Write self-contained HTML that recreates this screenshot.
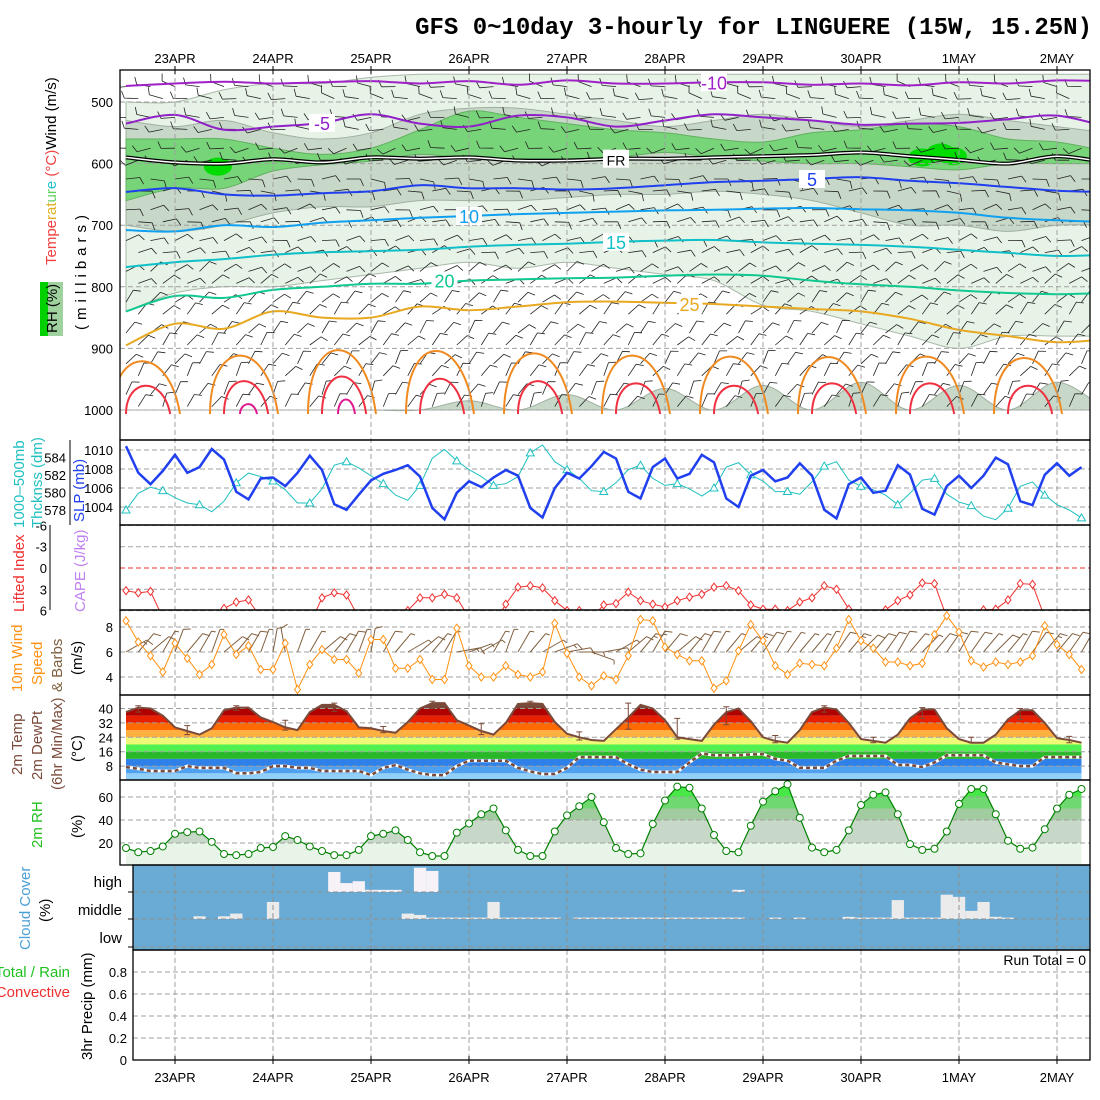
<!DOCTYPE html>
<html><head><meta charset="utf-8"><title>GFS meteogram LINGUERE</title>
<style>
html,body{margin:0;padding:0;background:#fff;}
svg{display:block;font-family:"Liberation Sans",sans-serif;}
.t{font-size:13px;fill:#000;}
</style></head>
<body>
<svg id="chart" xmlns="http://www.w3.org/2000/svg" width="1100" height="1100" viewBox="0 0 1100 1100">
<rect x="0" y="0" width="1100" height="1100" fill="#fff"/>
<text x="1092" y="34" text-anchor="end" font-family="Liberation Mono, monospace" font-weight="bold" font-size="24">GFS 0~10day 3-hourly for LINGUERE (15W, 15.25N)</text>
<g id="layers"></g>
<g font-size="15">
<text transform="translate(56,265) rotate(-90)"><tspan fill="#f04040">Tempe</tspan><tspan fill="#e0b020">rat</tspan><tspan fill="#60d060">ur</tspan><tspan fill="#20c0d0">e</tspan> <tspan fill="#f04040">(°C)</tspan><tspan fill="#000">Wind (m/s)</tspan></text>
<rect x="40" y="282" width="23" height="54" fill="#9fd29f"/>
<rect x="40" y="282" width="8" height="54" fill="#00d000"/>
<text transform="translate(57,333) rotate(-90)" fill="#000">RH (%)</text>
<text transform="translate(86,330) rotate(-90)" letter-spacing="5">(millibars)</text>
</g>
<g font-size="15">
<text transform="translate(24,528) rotate(-90)" fill="#20c0c0">1000–500mb</text>
<text transform="translate(42,528) rotate(-90)" fill="#20c0c0">Thcknss (dm)</text>
<text transform="translate(84,522) rotate(-90)" fill="#2040f0">SLP (mb)</text>
<line x1="70" y1="440" x2="70" y2="525" stroke="#000"/>
</g>
<g font-size="15">
<text transform="translate(24,612) rotate(-90)" fill="#f03030">Lifted Index</text>
<text transform="translate(85,612) rotate(-90)" fill="#c080f0">CAPE (J/kg)</text>
<line x1="50" y1="525" x2="50" y2="610" stroke="#000"/>
</g>
<g font-size="15">
<text transform="translate(22,692) rotate(-90)" fill="#ff9010">10m Wind</text>
<text transform="translate(42,685) rotate(-90)" fill="#ff9010">Speed</text>
<text transform="translate(62,692) rotate(-90)" fill="#806040">&amp; Barbs</text>
<text transform="translate(82,675) rotate(-90)" fill="#000">(m/s)</text>
</g>
<g font-size="15">
<text transform="translate(22,775) rotate(-90)" fill="#7a4a3a">2m Temp</text>
<text transform="translate(42,780) rotate(-90)" fill="#7a4a3a">2m DewPt</text>
<text transform="translate(62,790) rotate(-90)" fill="#7a4a3a">(6hr Min/Max)</text>
<text transform="translate(82,762) rotate(-90)" fill="#000">(°C)</text>
</g>
<g font-size="15">
<text transform="translate(42,848) rotate(-90)" fill="#20c020">2m RH</text>
<text transform="translate(82,838) rotate(-90)" fill="#000">(%)</text>
</g>
<g font-size="15">
<text transform="translate(30,950) rotate(-90)" fill="#4aa0d8">Cloud Cover</text>
<text transform="translate(50,922) rotate(-90)" fill="#000">(%)</text>
<text x="122" y="887" text-anchor="end">high</text>
<text x="122" y="915" text-anchor="end">middle</text>
<text x="122" y="943" text-anchor="end">low</text>
</g>
<g font-size="15">
<text x="70" y="977" text-anchor="end" fill="#20c020">Total / Rain</text>
<text x="70" y="997" text-anchor="end" fill="#f03030">Convective</text>
<text transform="translate(92,1060) rotate(-90)" fill="#000">3hr Precip (mm)</text>
<text x="1086" y="965" text-anchor="end" font-size="14">Run Total = 0</text>
</g>
</svg>
<script>
// ---------- data ----------
var dayLabels = ["23APR","24APR","25APR","26APR","27APR","28APR","29APR","30APR","1MAY","2MAY"];
var slp = [1010.4,1007.6,1006.4,1007.8,1009.5,1007.6,1008.2,1010.1,1009.0,1005.6,1004.8,1007.0,1007.1,1006.2,1007.6,1009.4,1007.9,1004.3,1003.7,1005.3,1006.8,1007.5,1007.9,1008.4,1007.2,1003.9,1002.7,1005.5,1006.7,1006.1,1007.1,1007.9,1007.3,1003.9,1002.9,1006.0,1007.6,1007.0,1008.3,1009.8,1009.1,1005.6,1004.9,1008.2,1009.1,1007.0,1007.5,1009.5,1008.7,1004.9,1004.0,1007.3,1007.9,1006.7,1007.1,1008.6,1007.3,1003.7,1002.8,1006.4,1007.1,1005.5,1005.7,1008.4,1007.4,1003.8,1003.2,1006.2,1007.3,1006.0,1007.3,1009.2,1008.5,1004.6,1004.2,1007.4,1008.6,1007.3,1008.2];
var thick = [578.0,579.9,580.6,580.2,579.4,578.8,578.6,577.8,579.0,581.1,582.2,581.8,581.3,580.3,578.8,578.8,580.4,583.1,583.5,582.8,581.9,581.0,579.7,579.1,580.8,583.9,584.9,583.6,582.6,581.8,580.8,581.0,581.8,584.5,585.4,583.5,582.6,581.6,580.2,580.1,581.1,582.6,583.1,581.6,580.8,581.0,580.4,579.6,580.5,582.9,583.4,582.0,581.3,580.1,580.1,579.8,581.2,583.0,583.5,581.4,580.7,580.3,579.7,578.6,579.9,581.4,581.6,579.8,578.9,578.5,577.3,576.9,578.2,580.7,581.2,579.7,578.6,578.0,577.1];
var liftedIdx = [3.2,3.5,3.3,7,8,8,8,8,5.7,4.8,4.5,7,8,8,8,8,4.2,3.5,3.8,7,8,8,8,6.0,4.2,4.2,3.7,4.2,7,8,8,5.1,2.7,2.5,2.8,4.6,6.0,6.0,7,5.2,5.0,3.4,4.6,5.1,5.5,4.6,4.1,3.7,2.7,2.5,3.2,5.2,5.8,5.8,6.0,4.8,4.2,2.5,3.0,5.8,7,8,5.9,4.6,3.8,2.1,2.2,7,8,8,5.9,5.8,4.5,2.2,2.3,7,8,8,8];
var wind10 = [8.5,6.8,5.7,4.4,6.7,5.5,4.2,5.0,7.4,5.8,6.5,4.6,4.6,6.7,3.0,5.0,6.2,5.4,5.4,4.3,7.0,7.0,4.7,4.7,5.4,3.8,3.8,7.9,4.9,4.0,4.0,4.9,4.2,4.0,4.4,8.3,5.9,4.0,3.3,4.1,3.8,5.7,8.6,8.5,6.4,5.8,5.3,5.3,3.1,3.7,6.1,8.2,6.9,4.9,4.2,5.1,5.0,4.9,6.3,8.6,6.9,6.3,5.2,5.2,4.9,5.1,7.4,8.9,7.6,5.3,4.8,5.2,5.0,5.2,5.7,8.1,6.6,5.8,4.6];
var wind10Dir = [60,40,50,30,20,40,30,20,50,40,30,20,10,350,20,30,50,40,30,20,10,30,40,60,50,40,30,80,70,60,30,20,30,40,60,70,80,90,110,80,60,50,40,30,40,50,40,30,30,40,50,40,35,30,35,40,40,30,35,40,45,40,35,30,40,45,40,35,30,35,40,45,40,30,35,40,40,35,30];
var temp2m = [38,40.5,40,36,29.5,27.5,25.5,29,39,40.5,40.5,35,32.5,29.5,28,38,42,42,38.5,29.5,29,27.5,26.5,32.5,40,43,43,33.5,30.5,27.5,25.5,32,42.5,43,42.5,32.5,26,24,22.5,22,28.5,35,42,40,33.5,24,23,22,31,38,40,33,24,22,21,28,38,40.5,39.5,32,23,22,21,25.5,34.5,39.5,39.5,29,23,21,21,25.5,34,39,39,32,23.5,22.5,21];
var dew2m = [7.5,6.5,5.3,5.3,5.3,8,7,7,7,4,4,4.7,8,8,7,7,5.3,5.3,5.3,5.3,3,7,8.6,6,4,3,3,8,11,11,11,11,7,5,3.6,3.6,7,13,13,13,13,9,6,4.7,4.7,4.7,10,15,14,14,14,14.5,14.7,12,11,7,7,7,11,13.6,13.6,13.6,13.6,8.6,8.6,7.5,10,14,14,14,14,10,9,8,8,13,13,13,13];
var rh2m = [15.6,12,13,17,28,29.5,30,21,10.4,9.5,10.4,15.6,16.5,26,22.6,17,13,9.5,9.5,14,26,28,31,22.6,12,8.7,8.7,29,37,45,50,31,14,8.7,8.7,30,44,52,60,38,15.6,10.4,11,36.5,57,69,68,50,27,13,12,35,56,65,71,42,16,12,14,31,53,62,64,45,19,14,15,30,54,67,67,45,22,15,16,32,50,62,67];
var cloudHigh = [0,0,0,0,0,0,0,0,0,0,0,0,0,0,0,0,0,74,33,40,8,8,8,0,90,78,0,0,0,0,0,0,0,0,0,0,0,0,0,0,0,0,0,0,0,0,0,0,0,0,8,0,0,0,0,0,0,0,0,0,0,0,0,0,0,0,0,0,0,0,0,0,0,0,0,0,0,0,0];
var cloudMid = [0,0,0,0,0,0,10,0,10,20,0,0,63,0,0,0,0,0,0,0,0,0,0,20,15,5,5,5,5,5,63,5,5,5,5,5,0,5,5,5,5,5,5,5,5,5,5,5,5,5,5,0,0,5,0,5,0,0,0,8,5,5,5,70,5,5,5,90,82,30,63,8,5,0,0,0,0,0,0];
var cloudLow = [];
var precipTotal = [];
var isoLevels = ["-10","-5","FR","5","10","15","20","25"];
var isoM10 = [474,470,467,470,468,466,470,466,472,465,470,470,468,468,472,470,473,468,470,465,466];
var isoM5 = [535,521,545,540,534,520,535,540,522,525,540,530,520,525,530,537,535,534,528,522,540];
var iso0 = [590,598,600,593,598,590,592,590,595,595,592,592,590,588,586,582,588,594,600,588,598];
var iso5 = [646,640,650,652,648,645,635,640,640,642,640,635,630,628,625,622,628,632,638,644,646];
var iso10 = [708,710,700,703,696,692,688,685,682,680,678,676,675,673,672,674,676,680,688,692,695];
var iso15 = [768,760,755,748,744,742,740,735,732,730,727,725,724,728,730,732,735,740,745,750,748];
var iso20 = [840,815,818,805,800,795,795,790,788,786,785,782,780,782,790,796,800,806,810,812,810];
var iso25 = [895,860,868,840,850,850,832,838,832,825,824,826,828,832,836,840,852,870,880,890,885];
var dome30 = [902,890,878,880,885,890,892,893,892,895];
var dome35 = [955,945,935,940,945,950,955,950,950,955];
var dome40 = [1010,995,985,1000,1005,1010,1010,1010,1010,1010];
var rh30Top = [500,500,480,470,470,460,455,455,455,455,455,455,455,455,455,455,455,455,455,455,455];
var rh30Bot = [840,810,800,800,790,780,770,760,770,760,770,780,790,830,840,860,880,900,880,880,880];
var rh50Top = [530,540,530,550,560,550,520,510,510,520,530,540,530,520,530,540,530,520,530,540,550];
var rh50Bot = [700,710,700,680,670,670,660,660,660,655,650,650,645,650,660,680,700,700,710,700,700];
var rh70Top = [560,560,560,575,585,575,545,515,525,535,545,550,560,565,550,545,535,540,560,565,580];
var rh70Bot = [660,640,640,612,602,596,585,592,592,592,590,582,590,596,600,600,605,610,600,600,600];
var sfcMoistTop = [1000,1000,1000,1000,1000,1000,1000,985,1000,975,1000,965,1000,960,1000,955,1000,960,1000,955,1000];
var wetBlobT = [7.5,65,66.5,67.5];
var wetBlobP = [605,590,582,588];
var levels = [475,525,575,625,675,725,775,825,875,925,975];
var levelDir = [280,270,260,90,80,75,60,45,40,35,30];
var levelSpd = [10,10,10,10,10,10,10,10,10,10,10];

// ---------- helpers ----------
var NS = "http://www.w3.org/2000/svg";
var root = document.getElementById('layers');
function mk(tag, attrs, parent){ var e=document.createElementNS(NS,tag); for(var k in attrs) e.setAttribute(k,attrs[k]); (parent||root).appendChild(e); return e; }
function xT(i){ return 126 + 12.25*i; }
function xDay(k){ return 175 + 98*k; }
function yP(p){ return 102 + (p-500)*0.616; }
function ySLP(v){ return 450 + (1010-v)*9.5; }
function yThk(v){ return 510 - (v-578)*8.78; }
function yLI(v){ return 568 + v*7.1; }
function yW(v){ return 652 - (v-6)*12.5; }
function yTmp(v){ return 780.5 - v*1.8; }
function yRH(v){ return 866 - v*1.15; }
function yPr(v){ return 1060 - v*110; }
function smooth(pts){ var d="M"+pts[0][0]+","+pts[0][1]; for(var i=0;i<pts.length-1;i++){ var p0=pts[Math.max(0,i-1)],p1=pts[i],p2=pts[i+1],p3=pts[Math.min(pts.length-1,i+2)]; var c1x=p1[0]+(p2[0]-p0[0])/6,c1y=p1[1]+(p2[1]-p0[1])/6,c2x=p2[0]-(p3[0]-p1[0])/6,c2y=p2[1]-(p3[1]-p1[1])/6; d+=" C"+c1x.toFixed(1)+","+c1y.toFixed(1)+" "+c2x.toFixed(1)+","+c2y.toFixed(1)+" "+p2[0].toFixed(1)+","+p2[1].toFixed(1);} return d; }
function pts12(arr){ return arr.map(function(p,k){ return [xT(4*k), yP(p)]; }); }
function poly(arr,fx,fy){ return arr.map(function(v,i){ return fx(i).toFixed(1)+","+fy(v).toFixed(1); }).join(" "); }

var defs = mk('defs',{});
function clip(id,x,y,w,h){ var c=mk('clipPath',{id:id},defs); mk('rect',{x:x,y:y,width:w,height:h},c); }
clip('cTop',120,70,970,370); clip('cLI',120,525,970,85); clip('cW',120,610,970,85); clip('cSlp',120,440,970,85);

// ---------- top panel ----------
var gTop = mk('g',{'clip-path':'url(#cTop)'});


function bandPath(top,bot){ var a=pts12(top), b=pts12(bot).reverse(); var d=smooth(a); d+=" L"+b[0][0]+","+b[0][1]; var s=smooth(b); d+=" "+s.replace(/^M[^ ]+/,""); return d+" Z"; }
var b1 = mk('path',{d:bandPath(rh30Top,rh30Bot),fill:'#e8f3e8',stroke:'#a8b8a8','stroke-width':1},gTop);


var b2 = mk('path',{d:bandPath(rh50Top,rh50Bot),fill:'#c8d8c8',stroke:'#a0b0a0','stroke-width':1},gTop);


var b3 = mk('path',{d:bandPath(rh70Top,rh70Bot),fill:'#78d478',stroke:'#60b060','stroke-width':1},gTop);


var sfc = sfcMoistTop.map(function(p,k){return [xT(4*k),yP(p)];});
var sd = smooth(sfc)+" L"+xT(80)+","+yP(1000)+" L"+xT(0)+","+yP(1000)+" Z";
var b4 = mk('path',{d:sd,fill:'#c8d8c8',stroke:'#a0b0a0'},gTop);


wetBlobT.forEach(function(t,j){
  var e=mk('ellipse',{cx:xT(t),cy:yP(wetBlobP[j]),rx:14,ry:9,fill:'#00dc00'},gTop);
  
  
});
[500,600,700,800,900,1000].forEach(function(p){
  var l=mk('line',{x1:120,x2:1090,y1:yP(p),y2:yP(p),stroke:'#a0a0a0','stroke-dasharray':'5,3'},gTop);
  
  
  var t=mk('text',{x:113,y:yP(p)+5,'text-anchor':'end','class':'t','font-size':14});
  t.textContent=p;
  
  
});
// barbs
function barb(g,x,y,dir,spd,len,col,w){
  var r=dir*Math.PI/180, dx=Math.sin(r), dy=-Math.cos(r);
  var x2=x+dx*len, y2=y+dy*len;
  var d="M"+x.toFixed(1)+","+y.toFixed(1)+" L"+x2.toFixed(1)+","+y2.toFixed(1);
  var n=Math.floor(spd/10), half=(spd%10)>=5;
  var px=-dy, py=dx;
  for(var b=0;b<n;b++){ var bx=x2-dx*b*3.5, by=y2-dy*b*3.5; d+=" M"+bx.toFixed(1)+","+by.toFixed(1)+" L"+(bx+px*7+dx*3).toFixed(1)+","+(by+py*7+dy*3).toFixed(1); }
  if(half){ var bx2=x2-dx*n*3.5, by2=y2-dy*n*3.5; d+=" M"+bx2.toFixed(1)+","+by2.toFixed(1)+" L"+(bx2+px*4+dx*1.5).toFixed(1)+","+(by2+py*4+dy*1.5).toFixed(1); }
  var e=mk('path',{d:d,fill:'none',stroke:col,'stroke-width':w},g);
  
  
}
var gB=mk('g',{},gTop);


for(var i=0;i<79;i++){ for(var L=0;L<levels.length;L++){ var off=(i%2)?12:0; barb(gB,xT(i),yP(levels[L])+off,levelDir[L]+((i*37+L*13)%30)-15,levelSpd[L],14,'#222',0.8); } }
// domes
function dome(peaks,w,color,name){
  peaks.forEach(function(p,k){
    if(p>=1000) return;
    var cx=152+98*k, yb=yP(1000)+4, yt=yP(p);
    var d="M"+(cx-w)+","+yb+" C"+(cx-w)+","+(yt-4)+" "+(cx+w*0.4)+","+(yt-8)+" "+(cx+w*0.7)+","+yb;
    var e=mk('path',{d:d,fill:'none',stroke:color,'stroke-width':2},gTop);
    
    
  });
}
dome(dome30,40,'#f08a20','isotherm-30');
dome(dome35,26,'#f03040','isotherm-35');
dome(dome40,10,'#e01890','isotherm-40');
var isoArrs=[isoM10,isoM5,iso0,iso5,iso10,iso15,iso20,iso25];
var isoCols=['#a020c8','#9020c8','#000','#2040f0','#10a0f0','#10c0c8','#10c890','#e8a820'];
var labelT=[48,16,40,56,28,40,26,46];
isoArrs.forEach(function(arr,j){
  var d=smooth(pts12(arr));
  if(j==2){
    var w=mk('path',{d:d,fill:'none',stroke:'#000','stroke-width':4},gTop);
    
    
    var w2=mk('path',{d:d,fill:'none',stroke:'#fff','stroke-width':1.5},gTop);
    
    
  } else {
    var e=mk('path',{d:d,fill:'none',stroke:isoCols[j],'stroke-width':2},gTop);
    
    
  }
  [labelT[j], labelT[j]+118].forEach(function(ti){
    var k=Math.round(ti/4), p=arr[Math.min(20,k)];
    var bg=mk('rect',{x:xT(ti)-13,y:yP(p)-9,width:26,height:18,fill:'#fff'},gTop);
    
    
    var t=mk('text',{x:xT(ti),y:yP(p)+7,'text-anchor':'middle','font-size':j==2?14:18,fill:isoCols[j]},gTop);
    t.textContent=isoLevels[j];
    
    
  });
});

// ---------- vertical day gridlines ----------
for(var k=0;k<10;k++){
  var gl=mk('line',{x1:xDay(k),x2:xDay(k),y1:70,y2:1060,stroke:'#a0a0a0','stroke-dasharray':'5,3'});
  
  
  var tt=mk('text',{x:xDay(k),y:63,'text-anchor':'middle','class':'t','font-size':14});
  tt.textContent=dayLabels[k];
  
  
  var tb=mk('text',{x:xDay(k),y:1082,'text-anchor':'middle','class':'t','font-size':14});
  tb.textContent=dayLabels[k];
  
  
}

function hgrid(y){ var l=mk('line',{x1:120,x2:1090,y1:y,y2:y,stroke:'#a0a0a0','stroke-dasharray':'5,3'});   }
function tick(x,y,txt,col){ var t=mk('text',{x:x,y:y+5,'text-anchor':'end','class':'t','font-size':14,fill:col||'#000'}); t.textContent=txt;   }

// SLP panel
var slpTicks=[1004,1006,1008,1010], thkTicks=[578,580,582,584];
slpTicks.forEach(function(v){ hgrid(ySLP(v)); tick(113,ySLP(v),v); });
thkTicks.forEach(function(v){ tick(66,yThk(v),v); });
var gS=mk('g',{'clip-path':'url(#cSlp)'});


var thl=mk('polyline',{points:poly(thick,xT,yThk),fill:'none',stroke:'#20c0c0','stroke-width':1},gS);


thick.forEach(function(v,i){ if(i%3!=0) return; var x=xT(i),y=yThk(v); var m=mk('path',{d:"M"+x+","+(y-4)+" L"+(x+4)+","+(y+3)+" L"+(x-4)+","+(y+3)+" Z",fill:'#fff',stroke:'#20c0c0'},gS);   });
var sl=mk('polyline',{points:poly(slp,xT,ySLP),fill:'none',stroke:'#2040f0','stroke-width':2.5},gS);



// LI panel
[-6,-3,0,3,6].forEach(function(v){ if(v!=0) hgrid(yLI(v)); tick(47,yLI(v),v); });
var z=mk('line',{x1:120,x2:1090,y1:yLI(0),y2:yLI(0),stroke:'#f03030','stroke-dasharray':'5,3'});


var gL=mk('g',{'clip-path':'url(#cLI)'});


var ll=mk('polyline',{points:poly(liftedIdx,xT,yLI),fill:'none',stroke:'#f03030','stroke-width':1},gL);


liftedIdx.forEach(function(v,i){ var x=xT(i),y=yLI(v); var m=mk('path',{d:"M"+x+","+(y-4)+" L"+(x+3)+","+y+" L"+x+","+(y+4)+" L"+(x-3)+","+y+" Z",fill:'#fff',stroke:'#f03030'},gL);   });

// wind panel
[4,6,8].forEach(function(v){ hgrid(yW(v)); tick(113,yW(v),v); });
var gW=mk('g',{'clip-path':'url(#cW)'});


wind10.forEach(function(v,i){ barb(gW,xT(i),yW(6),wind10Dir[i],v*1.94,24,'#806040',1); });
var wl=mk('polyline',{points:poly(wind10,xT,yW),fill:'none',stroke:'#ff9010','stroke-width':1},gW);


wind10.forEach(function(v,i){ var x=xT(i),y=yW(v); var m=mk('path',{d:"M"+x+","+(y-4)+" L"+(x+3)+","+y+" L"+x+","+(y+4)+" L"+(x-3)+","+y+" Z",fill:'#fff',stroke:'#ff9010'},gW);   });

// temperature panel
var tc=mk('clipPath',{id:'cTmp'},defs);
mk('polygon',{points:xT(0)+",780 "+poly(temp2m,xT,yTmp)+" "+xT(78)+",780"},tc);
var gT=mk('g',{'clip-path':'url(#cTmp)'});


var tBands=[[0,'#90d0f8'],[4,'#50a0f0'],[8,'#2f80e8'],[12,'#28b828'],[16,'#50f050'],[20,'#f0f878'],[24,'#ffb040'],[28,'#ff6a00'],[32,'#e82000'],[36,'#b00000'],[40,'#7a4838']];
tBands.forEach(function(b,j){ var top=(j==tBands.length-1)?60:b[0]+4; var r=mk('rect',{x:120,y:yTmp(top),width:970,height:yTmp(b[0])-yTmp(top),fill:b[1]},gT);   });
[8,16,24,32,40].forEach(function(v){ hgrid(yTmp(v)); tick(113,yTmp(v),v); });
var tl=mk('polyline',{points:poly(temp2m,xT,yTmp),fill:'none',stroke:'#7a4a3a','stroke-width':2});


var dl0=mk('polyline',{points:poly(dew2m,xT,yTmp),fill:'none',stroke:'#fff','stroke-width':3});


var dl=mk('polyline',{points:poly(dew2m,xT,yTmp),fill:'none',stroke:'#7a4a3a','stroke-width':2.5,'stroke-dasharray':'4,3'});


for(var i=2;i<79;i+=4){ var lo=Math.min(temp2m[i],temp2m[i-1],temp2m[i-2]), hi=Math.max(temp2m[i],temp2m[i-1],temp2m[i-2])+1; var x=xT(i-1); var e=mk('path',{d:"M"+x+","+yTmp(hi)+" V"+yTmp(lo)+" M"+(x-3)+","+yTmp(hi)+" h6 M"+(x-3)+","+yTmp(lo)+" h6",stroke:'#7a4a3a','stroke-width':1,fill:'none'});   }

// RH panel
var rc=mk('clipPath',{id:'cRH'},defs);
mk('polygon',{points:xT(0)+",865 "+poly(rh2m,xT,yRH)+" "+xT(78)+",865"},rc);
var gR=mk('g',{'clip-path':'url(#cRH)'});


var rBands=[[0,20,'#e8f4e8'],[20,40,'#c8d8c8'],[40,50,'#a0cca0'],[50,60,'#70d870'],[60,70,'#48e848'],[70,100,'#00e000']];
rBands.forEach(function(b){ var r=mk('rect',{x:120,y:yRH(b[1]),width:970,height:yRH(b[0])-yRH(b[1]),fill:b[2]},gR);   });
[20,40,60].forEach(function(v){ hgrid(yRH(v)); tick(113,yRH(v),v); });
var rl=mk('polyline',{points:poly(rh2m,xT,yRH),fill:'none',stroke:'#008000','stroke-width':1.2});


rh2m.forEach(function(v,i){ var c=mk('circle',{cx:xT(i),cy:yRH(v),r:3.5,fill:'#fff',stroke:'#008000'});   });

// cloud panel
var cb=mk('rect',{x:133,y:865,width:957,height:85,fill:'#6aabd5'});


function cloudRow(arr,base,col,name){ arr.forEach(function(v,i){ if(!v) return; var h=v/100*27; var r=mk('rect',{x:xT(i)-6.1,y:base-h,width:12.3,height:h,fill:col});   }); }
cloudRow(cloudHigh,892,'#f6f2f8','high-cloud-bar');
cloudRow(cloudMid,919,'#ebebeb','mid-cloud-bar');
cloudRow(cloudLow,947,'#ebebeb','low-cloud-bar');
[892,919,947].forEach(function(y){ var l=mk('line',{x1:133,x2:1090,y1:y,y2:y,stroke:'#909090','stroke-dasharray':'5,3'});   var t=mk('line',{x1:128,x2:133,y1:y,y2:y,stroke:'#000'});   });
for(var k=0;k<10;k++){ var g2=mk('line',{x1:xDay(k),x2:xDay(k),y1:865,y2:950,stroke:'#909090','stroke-dasharray':'5,3'});   }

// precip panel
[0.2,0.4,0.6,0.8].forEach(function(v){ var l=mk('line',{x1:133,x2:1090,y1:yPr(v),y2:yPr(v),stroke:'#a0a0a0','stroke-dasharray':'5,3'});   });
[0,0.2,0.4,0.6,0.8].forEach(function(v){ tick(127,yPr(v),v); });

// frames
var frames=[[120,70,970,370,'upper-air-frame'],[120,440,970,85,'slp-frame'],[120,525,970,85,'cape-frame'],[120,610,970,85,'wind10-frame'],[120,695,970,85,'temp-frame'],[120,780,970,85,'rh-frame'],[133,865,957,85,'cloud-frame'],[133,950,957,110,'precip-frame']];
frames.forEach(function(f){ var r=mk('rect',{x:f[0],y:f[1],width:f[2],height:f[3],fill:'none',stroke:'#000','stroke-width':1.3});   });
for(var k=0;k<10;k++){ var tk=mk('line',{x1:xDay(k),x2:xDay(k),y1:66,y2:74,stroke:'#000'});   var tk2=mk('line',{x1:xDay(k),x2:xDay(k),y1:1056,y2:1064,stroke:'#000'});   }
</script>
</body></html>
